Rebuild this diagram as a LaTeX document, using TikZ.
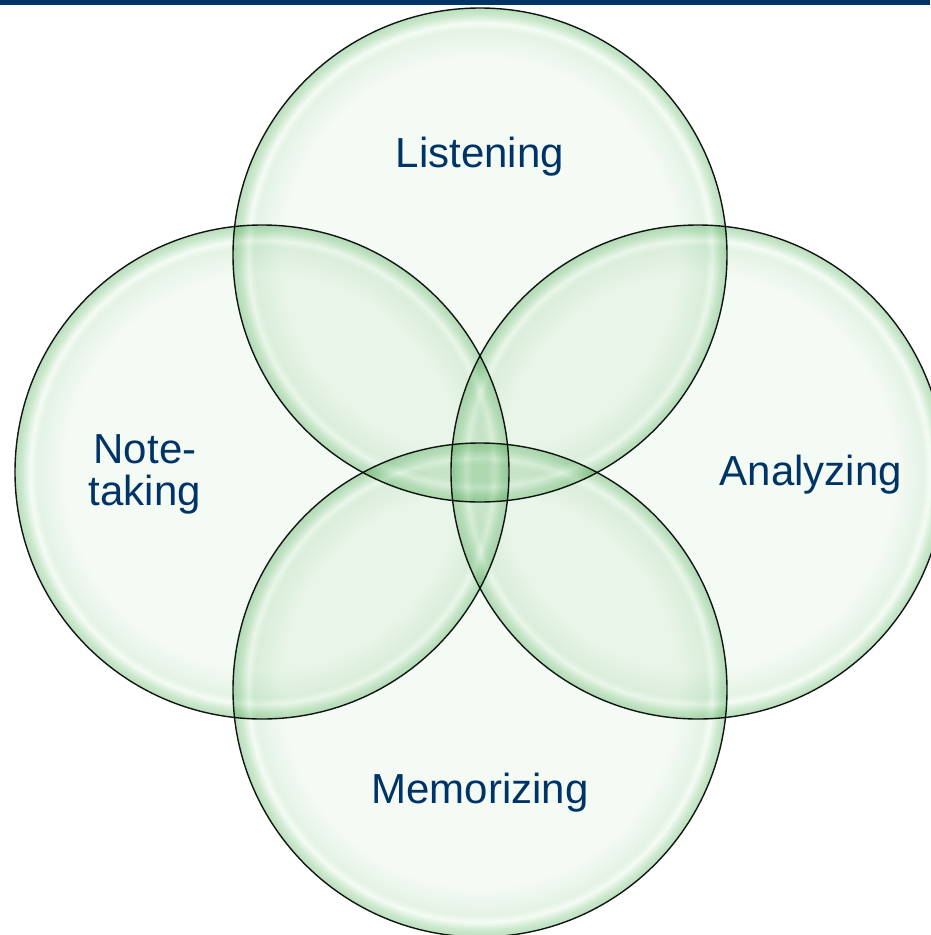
\documentclass[tikz,border=0pt]{standalone}
\usepackage{fontspec}
\setmainfont{Liberation Sans}
\definecolor{navy}{RGB}{0,51,102}
\definecolor{bpale}{RGB}{244,250,244}
\definecolor{bsoft}{RGB}{228,243,229}
\definecolor{bhigh}{RGB}{244,251,244}
\definecolor{bmid}{RGB}{205,233,207}
\definecolor{bedge}{RGB}{186,222,189}
\definecolor{bline}{RGB}{20,24,20}
\pgfdeclareradialshading{bubble}{\pgfpoint{0bp}{0bp}}{color(0bp)=(bpale); color(20bp)=(bpale); color(22.8bp)=(bsoft); color(23.5bp)=(bhigh); color(24.3bp)=(bmid); color(25bp)=(bedge); color(50bp)=(bedge)}
\tikzset{
  disc/.style={circle, inner sep=0pt, minimum size=494pt, shading=bubble, draw=bline, line width=1.4pt},
  lbl/.style={text=navy, font=\fontsize{42}{42}\selectfont, anchor=base, inner sep=0pt, align=center}
}
\begin{document}
\begin{tikzpicture}[x=1pt,y=-1pt]
\useasboundingbox (0,0) rectangle (930,935);
\fill[white] (0,0) rectangle (930,935);
\fill[navy] (0,0) rectangle (930,4.5);
\begin{scope}[blend mode=multiply]
\node[disc] (top) at (480,255) {};
\node[disc] (left) at (262,472) {};
\node[disc] (right) at (698,472) {};
\node[disc] (bottom) at (480,690) {};
\end{scope}
\node[lbl] (tl) at (480,167) {Listening};
\node[lbl] (ll) at (145,463) {Note-};
\node[lbl] (ll2) at (145,505) {taking};
\node[lbl] (rl) at (811,485) {Analyzing};
\node[lbl] (bl) at (480,803) {Memorizing};
\end{tikzpicture}
\end{document}
